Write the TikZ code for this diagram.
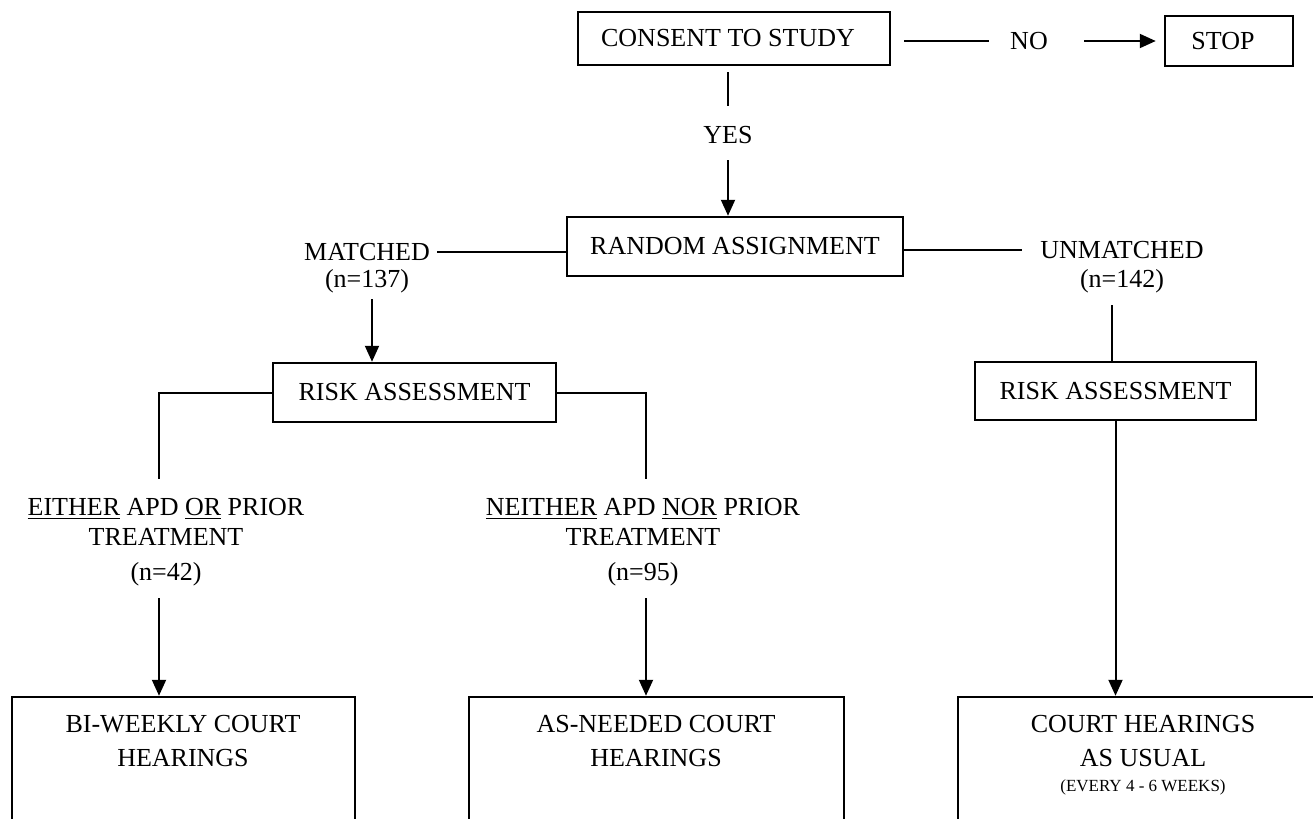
\documentclass[tikz,border=0pt]{standalone}
\usepackage{fontspec}
\setmainfont{Liberation Serif}
\usetikzlibrary{arrows.meta}
\begin{document}
\begin{tikzpicture}[x=0.5pt,y=-0.5pt,
  txt/.style={inner sep=0pt,font=\fontsize{13}{15}\selectfont,align=center},
  box/.style={draw,line width=1.25pt,inner sep=0pt,font=\fontsize{13}{15}\selectfont},
  ln/.style={line width=1pt},
  arr/.style={line width=1pt,-{Triangle[length=8pt,width=7pt]}}]
\useasboundingbox (0,0) rectangle (1313,819);
\clip (0,0) rectangle (1313,819);
% top row
\node[box,minimum width=156pt,minimum height=26.5pt] (consent) at (734,38.5) {\hspace*{-6pt}CONSENT TO STUDY};
\node[txt] (no) at (1029,41) {NO};
\node[box,minimum width=64pt,minimum height=25pt] (stop) at (1229,41) {\hspace*{-6pt}STOP};
\node[txt] (yes) at (728,135) {YES};
\node[box,minimum width=168pt,minimum height=29.5pt] (random) at (735,246.5) {RANDOM ASSIGNMENT};
% matched / unmatched
\node[txt] (matched) at (367,252) {MATCHED};
\node[txt] (n137) at (367,281) {(n=137)};
\node[txt] (unmatched) at (1122,250) {UNMATCHED};
\node[txt] (n142) at (1122,281) {(n=142)};
% risk assessments
\node[box,minimum width=141.5pt,minimum height=29.5pt] (risk1) at (414.5,392.5) {RISK ASSESSMENT};
\node[box,minimum width=140.5pt,minimum height=29pt] (risk2) at (1115.5,391) {RISK ASSESSMENT};
% branch labels
\node[txt] (either) at (166,542) {\underline{EITHER} APD \underline{OR} PRIOR\\TREATMENT\\[2.5pt](n=42)};
\node[txt] (neither) at (643,542) {\underline{NEITHER} APD \underline{NOR} PRIOR\\TREATMENT\\[2.5pt](n=95)};
% bottom boxes
\node[box,minimum width=171.5pt,minimum height=101.5pt] (bi) at (183.5,798.5) {};
\node[box,minimum width=187.5pt,minimum height=101.5pt] (asn) at (656.5,798.5) {};
\node[box,minimum width=185pt,minimum height=101.5pt] (usual) at (1143,798.5) {};
\node[txt,font=\fontsize{13}{17}\selectfont] (bitxt) at (183,741) {BI-WEEKLY COURT\\HEARINGS};
\node[txt,font=\fontsize{13}{17}\selectfont] (asntxt) at (656,741) {AS-NEEDED COURT\\HEARINGS};
\node[txt,font=\fontsize{13}{17}\selectfont] (usualtxt) at (1143,755) {COURT HEARINGS\\AS USUAL\\[-4.5pt]{\fontsize{8.5}{11}\selectfont (EVERY 4 - 6 WEEKS)}};
% helper coordinates
\coordinate (ea) at (159,479);
\coordinate (eb) at (159,598);
\coordinate (na) at (646,479);
\coordinate (nb) at (646,598);
% connectors
\draw[ln,shorten <=6.5pt,shorten >=10.5pt] (consent.east |- no) -- (no.west);
\draw[arr,shorten <=18pt,shorten >=4pt] (no.east) -- (stop.west |- no);
\draw[ln,shorten <=3pt,shorten >=10pt] (yes |- consent.south) -- (yes.north);
\draw[arr,shorten <=8pt] (yes.south) -- (yes |- random.north);
\draw[ln,shorten >=3.5pt] (random.west |- matched) -- (matched.east);
\draw[ln,shorten >=9pt] (random.east |- unmatched) -- (unmatched.west);
\draw[arr,shorten <=3pt] ([xshift=2.5pt]n137.south) -- ([xshift=2.5pt]n137.south |- risk1.north);
\draw[ln,shorten <=6pt] ([xshift=-5pt]n142.south) -- ([xshift=-5pt]n142.south |- risk2.north);
\draw[ln] (risk1.west) -| (ea);
\draw[ln] (risk1.east) -| (na);
\draw[arr] (eb) -- (eb |- bi.north);
\draw[arr] (nb) -- (nb |- asn.north);
\draw[arr] (risk2.south) -- (risk2.south |- usual.north);
\end{tikzpicture}
\end{document}
